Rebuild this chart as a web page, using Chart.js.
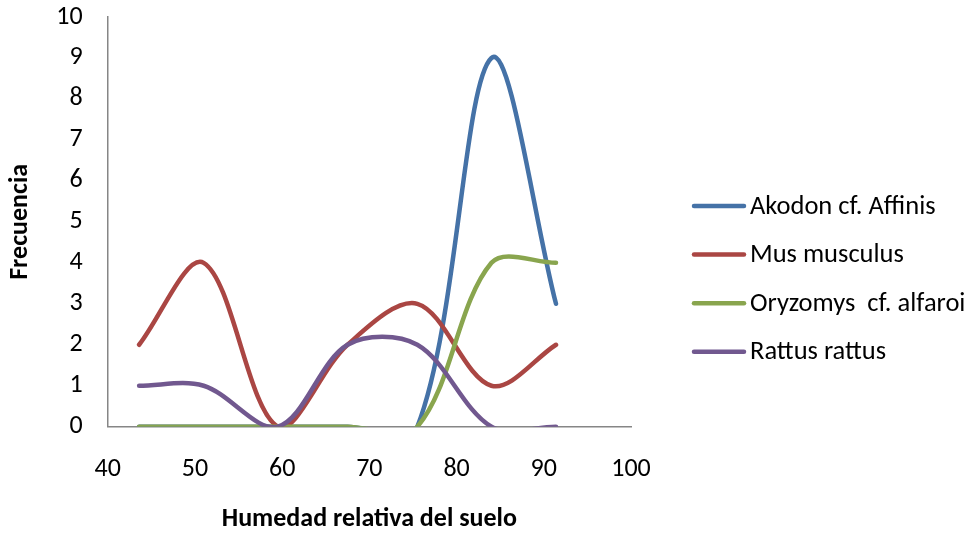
<!DOCTYPE html>
<html>
<head>
<meta charset="utf-8">
<script src="https://cdn.jsdelivr.net/npm/chart.js@4/dist/chart.umd.min.js"></script>
<style>
  html, body { margin: 0; padding: 0; background: #ffffff; }
  #wrap { width: 974px; height: 535px; }
</style>
</head>
<body>
<div id="wrap"><canvas id="chart" width="974" height="535"></canvas></div>
<script>
// Relative soil humidity (class marks) and capture frequency per species
const humedad  = [43.6, 51, 59.5, 67.5, 75.5, 84, 91.4];
const akodon   = [0, 0, 0, 0, 0, 9, 3];
const mus      = [2, 4, 0, 2, 3, 1, 2];
const oryzomys = [0, 0, 0, 0, 0, 4, 4];
const rattus   = [1, 1, 0, 2, 2, 0, 0];

const seriesNames  = ['Akodon cf. Affinis', 'Mus musculus', 'Oryzomys  cf. alfaroi', 'Rattus rattus'];
const seriesValues = [akodon, mus, oryzomys, rattus];
const seriesColors = ['#4572A7', '#AA4643', '#89A54E', '#71588F'];

const xTicks = [40, 50, 60, 70, 80, 90, 100];
const yTicks = [0, 1, 2, 3, 4, 5, 6, 7, 8, 9, 10];

const FONT = 'Carlito, Lato, "Liberation Sans", sans-serif';
const FONT_SIZE = 26;
const AXIS_GREY = '#868686';

const datasets = seriesNames.map((name, i) => ({
  label: name,
  data: humedad.map((x, k) => ({ x: x, y: seriesValues[i][k] })),
  borderColor: seriesColors[i],
  backgroundColor: seriesColors[i],
  borderWidth: 4.5,
  borderCapStyle: 'round',
  borderJoinStyle: 'round',
  pointRadius: 0,
  pointHoverRadius: 0,
  tension: 1 / 3,
  capBezierPoints: false,
  // later series are painted over earlier ones
  order: seriesNames.length - 1 - i
}));

// Legend on the right: short line sample followed by the series name
const sideLegend = {
  id: 'sideLegend',
  afterDraw(chart) {
    const ctx = chart.ctx;
    ctx.save();
    ctx.font = '26.5px ' + FONT;
    ctx.textBaseline = 'middle';
    ctx.textAlign = 'left';
    chart.data.datasets.forEach((ds, i) => {
      const y = 206 + i * 48.6;
      ctx.strokeStyle = ds.borderColor;
      ctx.lineWidth = 4.5;
      ctx.lineCap = 'round';
      ctx.beginPath();
      ctx.moveTo(694, y);
      ctx.lineTo(744, y);
      ctx.stroke();
      ctx.fillStyle = '#000000';
      ctx.fillText(ds.label, 750, y + 1);
    });
    ctx.restore();
  }
};

new Chart(document.getElementById('chart'), {
  type: 'line',
  data: { datasets: datasets },
  plugins: [sideLegend],
  options: {
    responsive: false,
    animation: false,
    events: [],
    layout: { padding: { left: 0, top: 17, right: 343, bottom: 0 } },
    plugins: {
      legend: { display: false },
      tooltip: { enabled: false }
    },
    scales: {
      x: {
        type: 'linear',
        min: 40,
        max: 100,
        afterBuildTicks: (s) => { s.ticks = xTicks.map(v => ({ value: v })); },
        afterFit: (s) => { s.height = 108.3; },
        grid: { display: true, drawOnChartArea: false, drawTicks: false },
        border: { display: true, color: AXIS_GREY, width: 1.5 },
        ticks: { padding: 26.7, color: '#000000', font: { family: FONT, size: FONT_SIZE } },
        title: {
          display: true,
          text: 'Humedad relativa del suelo',
          color: '#000000',
          font: { family: FONT, size: FONT_SIZE, weight: 'bold' },
          padding: { top: 0.4, bottom: 0 }
        }
      },
      y: {
        type: 'linear',
        min: 0,
        max: 10,
        afterBuildTicks: (s) => { s.ticks = yTicks.map(v => ({ value: v })); },
        afterFit: (s) => {
          s.width = 107.7;
          s.paddingTop = 0;
          s.paddingBottom = 0;
        },
        grid: { display: true, drawOnChartArea: false, drawTicks: false },
        border: { display: true, color: AXIS_GREY, width: 1.5 },
        ticks: { padding: 25, color: '#000000', font: { family: FONT, size: FONT_SIZE } },
        title: {
          display: true,
          text: 'Frecuencia',
          color: '#000000',
          font: { family: FONT, size: FONT_SIZE, weight: 'bold' },
          padding: { top: 4.4, bottom: 0 }
        }
      }
    }
  }
});
</script>
</body>
</html>
